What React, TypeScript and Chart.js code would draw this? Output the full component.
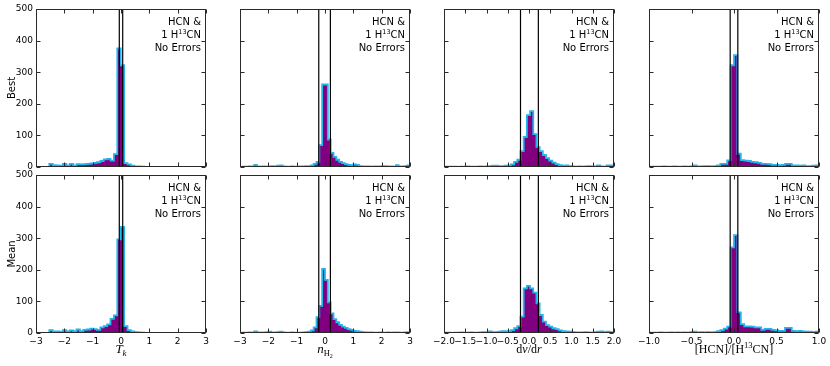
import React, { useEffect, useRef } from "react";
import { Chart, registerables } from "chart.js";

Chart.register(...registerables);

// ---------- data ----------
const rowLabels = ["Best", "Mean"];

// Panel 1: T_k
const tkTicks = [-3, -2, -1, 0, 1, 2, 3];
const tkTickLabels = ["\u22123", "\u22122", "\u22121", "0", "1", "2", "3"];
const tkBinStart = -2.53;
const tkBinWidth = 0.12;
const tkBest = [10, 6, 5, 4, 10, 5, 10, 5, 9, 8, 9, 10, 11, 13, 15, 19, 24, 26, 20, 41, 375, 322, 12, 8, 4, 2, 2, 1];
const tkMean = [9, 5, 5, 4, 9, 5, 8, 6, 11, 6, 10, 11, 14, 12, 10, 18, 22, 27, 45, 56, 296, 336, 22, 9, 5, 3, 2, 1];
const tkLines = [-0.06, 0.06];

// Panel 2: n_H2
const nhTicks = [-3, -2, -1, 0, 1, 2, 3];
const nhTickLabels = ["\u22123", "\u22122", "\u22121", "0", "1", "2", "3"];
const nhBinStart = -3.0;
const nhBinWidth = 0.1;
const nhBest = [
  0, 1, 1, 2, 2, 7, 2, 1, 2, 1,
  2, 3, 2, 4, 5, 2, 1, 1, 2, 1,
  1, 2, 2, 3, 3, 5, 10, 16, 69, 261,
  261, 87, 45, 32, 23, 16, 12, 9, 7, 6,
  8, 7, 3, 2, 2, 2, 1, 2, 2, 2,
  3, 3, 2, 2, 1, 6, 2, 2, 3, 5,
];
const nhMean = [
  0, 1, 1, 2, 1, 5, 2, 2, 1, 3,
  4, 2, 2, 3, 4, 2, 1, 1, 2, 1,
  1, 1, 2, 3, 4, 8, 18, 50, 86, 203,
  168, 97, 62, 44, 34, 26, 20, 16, 12, 10,
  7, 6, 4, 3, 2, 2, 2, 1, 1, 2,
  1, 1, 2, 1, 2, 2, 1, 1, 2, 3,
];
const nhLines = [-0.22, 0.19];

// Panel 3: dv/dr
const dvTicks = [-2, -1.5, -1, -0.5, 0, 0.5, 1, 1.5, 2];
const dvTickLabels = ["\u22122.0", "\u22121.5", "\u22121.0", "\u22120.5", "0.0", "0.5", "1.0", "1.5", "2.0"];
const dvBinStart = -2.0;
const dvBinWidth = 0.075;
const dvBest = [
  1, 1, 1, 1, 0, 1, 1, 2, 1, 1,
  1, 2, 1, 2, 3, 4, 4, 3, 3, 4,
  5, 8, 16, 23, 50, 95, 164, 177, 104, 63,
  50, 38, 28, 20, 14, 9, 6, 4, 5, 3,
  2, 1, 2, 1, 2, 3, 2, 2, 5, 2,
  1, 5, 5, 3,
];
const dvMean = [
  1, 1, 0, 1, 1, 2, 1, 1, 2, 1,
  1, 2, 3, 2, 5, 3, 3, 4, 6, 6,
  6, 9, 15, 22, 52, 141, 149, 141, 128, 94,
  57, 36, 25, 20, 15, 12, 8, 6, 5, 4,
  3, 2, 2, 2, 3, 2, 1, 3, 4, 5,
  3, 4, 3, 2,
];
const dvLines = [-0.2, 0.22];

// Panel 4: [HCN]/[H13CN]
const rtTicks = [-1, -0.5, 0, 0.5, 1];
const rtTickLabels = ["\u22121.0", "\u22120.5", "0.0", "0.5", "1.0"];
const rtBinStart = -1.0;
const rtBinWidth = 0.04;
const rtBest = [
  1, 1, 1, 1, 2, 1, 1, 2, 1, 1,
  2, 1, 2, 5, 2, 2, 3, 3, 2, 3,
  5, 10, 10, 21, 322, 354, 42, 22, 20, 19,
  16, 15, 13, 10, 10, 9, 7, 7, 6, 7,
  10, 10, 5, 5, 4, 5, 3, 3, 4, 5,
];
const rtMean = [
  1, 1, 1, 2, 1, 1, 2, 1, 2, 1,
  2, 1, 3, 4, 2, 3, 2, 3, 2, 3,
  6, 9, 14, 20, 271, 310, 65, 28, 21, 21,
  20, 18, 18, 10, 13, 13, 10, 8, 7, 7,
  16, 16, 7, 6, 7, 5, 4, 4, 3, 4,
];
const rtLines = [-0.045, 0.045];

const yTicks = [0, 100, 200, 300, 400, 500];
const yTickLabels = ["0", "100", "200", "300", "400", "500"];

type Seg = { t: string; size: number; italic?: boolean; dy?: number };

// annotation text (same in every panel)
const annotationLines: Seg[][] = [
  [{ t: "HCN &", size: 10 }],
  [{ t: "1 H", size: 10 }, { t: "13", size: 6.5, dy: -4 }, { t: "CN", size: 10 }],
  [{ t: "No Errors", size: 10 }],
];

const tkTitle: Seg[] = [{ t: "T", size: 13, italic: true }, { t: "k", size: 9, italic: true, dy: 2.5 }];
const nhTitle: Seg[] = [
  { t: "n", size: 13, italic: true },
  { t: "H", size: 8.5, dy: 2.5 },
  { t: "2", size: 6, dy: 4.5 },
];
const dvTitle: Seg[] = [
  { t: "d", size: 12 },
  { t: "v", size: 12, italic: true },
  { t: "/", size: 12 },
  { t: "d", size: 12 },
  { t: "r", size: 12, italic: true },
];
const rtTitle: Seg[] = [
  { t: "[HCN]/[H", size: 12 },
  { t: "13", size: 8.5, dy: -5 },
  { t: "CN]", size: 12 },
];

const panels = [
  { min: -3, max: 3, ticks: tkTicks, labels: tkTickLabels, start: tkBinStart, width: tkBinWidth, best: tkBest, mean: tkMean, lines: tkLines, title: tkTitle },
  { min: -3, max: 3, ticks: nhTicks, labels: nhTickLabels, start: nhBinStart, width: nhBinWidth, best: nhBest, mean: nhMean, lines: nhLines, title: nhTitle },
  { min: -2, max: 2, ticks: dvTicks, labels: dvTickLabels, start: dvBinStart, width: dvBinWidth, best: dvBest, mean: dvMean, lines: dvLines, title: dvTitle },
  { min: -1, max: 1, ticks: rtTicks, labels: rtTickLabels, start: rtBinStart, width: rtBinWidth, best: rtBest, mean: rtMean, lines: rtLines, title: rtTitle },
];

// ---------- layout / style ----------
const COL_LEFT = [36, 240, 444, 649];
const ROW_TOP = [9, 175];
const PANEL_W = 170;
const PANEL_H = 158;
const PAD_LEFT = 36;
const PAD_TOP = 9;
const PAD_RIGHT = 14;
const PAD_BOTTOM = 33;
const PURPLE = "#800080";
const CYAN = "#22b6ee";
const FRAME = "#2a2a2a";
const SANS = "'DejaVu Sans', sans-serif";
const SERIF = "'Liberation Serif', 'DejaVu Serif', serif";

function histPoints(start: number, width: number, counts: number[]) {
  const pts: { x: number; y: number }[] = [{ x: start, y: 0 }];
  counts.forEach((c, i) => {
    pts.push({ x: start + i * width, y: c });
    pts.push({ x: start + (i + 1) * width, y: c });
  });
  pts.push({ x: start + counts.length * width, y: 0 });
  return pts;
}

function drawSegs(ctx: CanvasRenderingContext2D, segs: Seg[], x0: number, baseline: number, align: "center" | "right", family: string) {
  const fontOf = (s: Seg) => `${s.italic ? "italic " : ""}${s.size}px ${family}`;
  const widths = segs.map((s) => {
    ctx.font = fontOf(s);
    return ctx.measureText(s.t).width;
  });
  const total = widths.reduce((a, b) => a + b, 0);
  let x = align === "center" ? x0 - total / 2 : x0 - total;
  ctx.textAlign = "left";
  ctx.textBaseline = "alphabetic";
  segs.forEach((s, i) => {
    ctx.font = fontOf(s);
    ctx.fillText(s.t, x, baseline + (s.dy || 0));
    x += widths[i];
  });
}

function Panel({ row, col }: { row: number; col: number }) {
  const ref = useRef<HTMLCanvasElement>(null);
  const p = panels[col];
  const cw = PAD_LEFT + PANEL_W + PAD_RIGHT;
  const ch = PAD_TOP + PANEL_H + PAD_BOTTOM;

  useEffect(() => {
    if (!ref.current) return;
    const counts = row === 0 ? p.best : p.mean;
    const frame = {
      id: "frame" + row + col,
      afterDatasetsDraw(chart: any) {
        const ctx: CanvasRenderingContext2D = chart.ctx;
        const { left, right, top, bottom } = chart.chartArea;
        const xs = chart.scales.x;
        const ys = chart.scales.y;
        ctx.save();
        ctx.strokeStyle = FRAME;
        ctx.lineWidth = 1;
        const L = Math.round(left) + 0.5, R = Math.round(right) - 0.5;
        const T = Math.round(top) + 0.5, B = Math.round(bottom) - 0.5;
        ctx.strokeRect(L, T, R - L, B - T);
        ctx.beginPath();
        p.ticks.forEach((v) => {
          const px = Math.round(xs.getPixelForValue(v)) + 0.5;
          ctx.moveTo(px, B); ctx.lineTo(px, B - 4);
          ctx.moveTo(px, T); ctx.lineTo(px, T + 4);
        });
        yTicks.forEach((v) => {
          const py = Math.round(ys.getPixelForValue(v)) + 0.5;
          ctx.moveTo(L, py); ctx.lineTo(L + 4, py);
          ctx.moveTo(R, py); ctx.lineTo(R - 4, py);
        });
        ctx.stroke();
        ctx.restore();
      },
      afterDraw(chart: any) {
        const ctx: CanvasRenderingContext2D = chart.ctx;
        const { left, right, top, bottom } = chart.chartArea;
        ctx.save();
        ctx.fillStyle = "#000";
        const baselines = [16, 28.7, 41.5];
        annotationLines.forEach((segs, i) => drawSegs(ctx, segs, right - 5, top + baselines[i], "right", SANS));
        if (row === 1) drawSegs(ctx, p.title, (left + right) / 2, bottom + 20, "center", SERIF);
        ctx.restore();
      },
    };
    const chart = new Chart(ref.current, {
      type: "line",
      data: {
        datasets: [
          ...p.lines.map((v) => ({
            data: [{ x: v, y: 0 }, { x: v, y: 500 }],
            borderColor: "#000",
            borderWidth: 1.2,
            pointRadius: 0,
            fill: false,
            order: 0,
          })),
          {
            data: histPoints(p.start, p.width, counts),
            borderColor: CYAN,
            backgroundColor: PURPLE,
            borderWidth: 1.8,
            pointRadius: 0,
            fill: "origin",
            tension: 0,
            order: 1,
          },
        ],
      } as any,
      options: {
        responsive: false,
        animation: false,
        events: [],
        layout: { padding: { top: PAD_TOP, right: PAD_RIGHT, left: 0, bottom: 0 } },
        plugins: { legend: { display: false }, tooltip: { enabled: false } },
        scales: {
          x: {
            type: "linear",
            min: p.min,
            max: p.max,
            grid: { display: false, drawTicks: false },
            border: { display: false },
            afterBuildTicks: (s: any) => {
              s.ticks = p.ticks.map((v) => ({ value: v }));
            },
            ticks: {
              display: row === 1,
              autoSkip: false,
              maxRotation: 0,
              minRotation: 0,
              padding: 3,
              color: "#000",
              font: { family: SANS, size: 9 },
              callback: (_v: any, i: number) => p.labels[i],
            },
            afterFit: (s: any) => {
              s.height = PAD_BOTTOM;
            },
          },
          y: {
            type: "linear",
            min: 0,
            max: 500,
            grid: { display: false, drawTicks: false },
            border: { display: false },
            afterBuildTicks: (s: any) => {
              s.ticks = yTicks.map((v) => ({ value: v }));
            },
            ticks: {
              display: col === 0,
              autoSkip: false,
              padding: 3,
              color: "#000",
              font: { family: SANS, size: 9 },
              callback: (_v: any, i: number) => yTickLabels[i],
            },
            title: {
              display: col === 0,
              text: rowLabels[row],
              color: "#000",
              font: { family: SANS, size: 10 },
              padding: { top: 6, bottom: 0 },
            },
            afterFit: (s: any) => {
              s.width = PAD_LEFT;
            },
          },
        },
      } as any,
      plugins: [frame],
    });
    return () => chart.destroy();
  }, [row, col]);

  return (
    <canvas
      ref={ref}
      width={cw}
      height={ch}
      style={{
        position: "absolute",
        left: COL_LEFT[col] - PAD_LEFT,
        top: ROW_TOP[row] - PAD_TOP,
        width: cw,
        height: ch,
      }}
    />
  );
}

export default function App() {
  const cells: JSX.Element[] = [];
  for (let r = 0; r < 2; r++) for (let c = 0; c < 4; c++) cells.push(<Panel key={r + "-" + c} row={r} col={c} />);
  return (
    <div
      style={{
        position: "absolute",
        left: 0,
        top: 0,
        width: 830,
        height: 366,
        overflow: "hidden",
        background: "#fff",
      }}
    >
      {cells}
    </div>
  );
}
